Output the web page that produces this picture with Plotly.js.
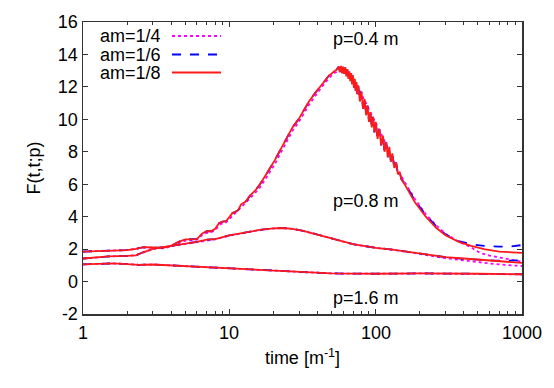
<!DOCTYPE html>
<html>
<head>
<meta charset="utf-8">
<script src="https://cdn.plot.ly/plotly-3.0.1.min.js"></script>
<style>
  html, body { margin: 0; padding: 0; background: #fff; }
  #chart { width: 554px; height: 388px; }
</style>
</head>
<body>
<div id="chart"></div>
<script>
// series names
var seriesNames = ['am=1/4', 'am=1/6', 'am=1/8'];

// p = 0.4 m
var x04 = [1, 1.5, 2, 2.3, 2.6, 3, 3.5, 4, 4.5, 5, 5.5, 6, 6.5, 7, 7.5, 8, 8.5, 9, 9.5, 10, 10.5, 11, 11.5, 12, 12.5, 13, 14, 15, 16.2, 17.5, 19, 20.5, 21.9, 23.5, 25, 27, 29.7, 32, 35, 38, 41.5, 45, 48, 52, 54];
var red04 = [1.85, 1.88, 1.94, 2.02, 2.12, 2.1, 2.08, 2.2, 2.45, 2.6, 2.6, 2.62, 2.95, 3.1, 3.1, 3.25, 3.6, 3.7, 3.72, 3.95, 4.22, 4.3, 4.4, 4.75, 4.85, 4.95, 5.35, 5.6, 6.0, 6.45, 7.0, 7.5, 8.0, 8.5, 9.0, 9.5, 10.0, 10.5, 11.1, 11.55, 12.0, 12.4, 12.7, 12.95, 13.05];
var x04b = [56, 57, 58, 59, 60, 61, 62, 63, 64, 65, 66, 67, 68, 69, 70, 71, 72, 73, 74, 75, 76, 78, 80, 82, 84, 86, 88, 90, 92, 94, 96, 98, 100, 103, 106, 109, 112, 115, 118, 121, 124, 127, 130, 134, 138, 142, 146, 150];
var red04b = [13.25, 12.9, 13.3, 12.85, 13.25, 12.8, 13.2, 12.65, 13.1, 12.5, 12.95, 12.35, 12.85, 12.15, 12.7, 11.95, 12.5, 11.75, 12.3, 11.55, 12.1, 11.1, 11.7, 10.65, 11.25, 10.25, 10.85, 9.85, 10.45, 9.5, 10.15, 9.2, 9.85, 8.8, 9.4, 8.4, 9.0, 8.0, 8.6, 7.65, 8.3, 7.4, 7.9, 7.0, 7.35, 6.6, 6.75, 6.3];
var x04c = [160, 185, 220, 260, 300, 370, 450, 550, 700, 850, 1000];
var red04c = [5.9, 4.9, 4.0, 3.3, 2.85, 2.45, 2.2, 2.0, 1.85, 1.8, 1.77];
var blue04c = [6.0, 5.0, 4.1, 3.4, 2.9, 2.5, 2.3, 2.2, 2.15, 2.17, 2.25];

var xMag04 = [1, 1.5, 2, 2.3, 2.6, 3, 3.5, 4, 4.5, 5, 5.5, 6, 6.5, 7, 7.5, 8, 8.5, 9, 9.5, 10, 11, 12, 13, 14, 15, 16.2, 17.5, 19, 20.5, 21.9, 23.5, 25, 27, 29.7, 32, 35, 38, 41.5, 45, 48, 52, 57, 62, 67, 72, 78, 85, 95, 105, 115, 126, 140, 160, 185, 220, 260, 300, 370, 450, 520, 600, 740, 860, 1000];
var mag04 = [1.85, 1.88, 1.94, 2.02, 2.1, 2.08, 2.05, 2.15, 2.38, 2.52, 2.55, 2.58, 2.85, 3.0, 3.05, 3.15, 3.48, 3.6, 3.65, 3.85, 4.2, 4.6, 4.85, 5.2, 5.45, 5.8, 6.25, 6.75, 7.25, 7.75, 8.25, 8.75, 9.3, 9.8, 10.3, 10.9, 11.35, 11.85, 12.25, 12.55, 12.85, 13.0, 12.95, 12.6, 12.25, 11.75, 11.1, 10.2, 9.4, 8.65, 7.9, 6.95, 6.05, 5.1, 4.15, 3.45, 2.95, 2.45, 2.1, 1.75, 1.6, 1.43, 1.32, 1.22];

// p = 0.8 m
var x08 = [1, 1.5, 2, 2.3, 2.6, 3, 3.5, 4, 5, 6, 7, 8, 10, 13, 16, 20, 23, 27, 32, 40, 50, 60, 70, 85, 100, 130, 160, 200, 250, 300, 400, 500, 650, 800, 1000];
var red08 = [1.42, 1.55, 1.58, 1.62, 1.82, 2.02, 2.12, 2.2, 2.37, 2.45, 2.58, 2.62, 2.85, 3.05, 3.18, 3.28, 3.3, 3.25, 3.12, 2.9, 2.65, 2.45, 2.3, 2.18, 2.08, 1.97, 1.85, 1.72, 1.6, 1.51, 1.42, 1.36, 1.26, 1.2, 1.15];
var blue08 = [1.42, 1.55, 1.58, 1.62, 1.82, 2.02, 2.12, 2.2, 2.37, 2.45, 2.58, 2.62, 2.85, 3.05, 3.18, 3.28, 3.3, 3.25, 3.12, 2.9, 2.65, 2.45, 2.3, 2.18, 2.08, 1.97, 1.85, 1.72, 1.6, 1.5, 1.4, 1.34, 1.29, 1.29, 1.32];
var mag08 = [1.42, 1.55, 1.58, 1.62, 1.8, 2.0, 2.1, 2.18, 2.35, 2.43, 2.56, 2.6, 2.83, 3.03, 3.17, 3.27, 3.3, 3.25, 3.12, 2.9, 2.65, 2.45, 2.3, 2.18, 2.08, 1.97, 1.85, 1.7, 1.56, 1.44, 1.3, 1.2, 1.08, 1.01, 0.96];

// p = 1.6 m
var x16 = [1, 1.3, 1.6, 2, 2.4, 3, 3.5, 4, 5, 7, 10, 16, 20, 30, 50, 100, 200, 500, 1000];
var red16 = [1.06, 1.1, 1.12, 1.08, 1.03, 1.05, 1.02, 0.98, 0.94, 0.88, 0.82, 0.71, 0.65, 0.56, 0.5, 0.48, 0.5, 0.48, 0.45];
var blue16 = [1.06, 1.1, 1.12, 1.08, 1.03, 1.05, 1.02, 0.98, 0.94, 0.88, 0.82, 0.71, 0.65, 0.56, 0.5, 0.48, 0.5, 0.48, 0.45];
var mag16 = [1.06, 1.1, 1.12, 1.08, 1.03, 1.05, 1.02, 0.98, 0.94, 0.88, 0.82, 0.71, 0.65, 0.56, 0.5, 0.48, 0.5, 0.47, 0.44];

// curve labels
var curveLabels = ['p=0.4 m', 'p=0.8 m', 'p=1.6 m'];
var curveLabelY = [14.95, 4.95, -1.0];

// axis ticks
var xTickVals = [1, 10, 100, 1000];
var xTickText = ['1', '10', '100', '1000'];
var xMinorVals = [2, 3, 4, 5, 6, 7, 8, 9, 20, 30, 40, 50, 60, 70, 80, 90, 200, 300, 400, 500, 600, 700, 800, 900];
var yTickVals = [-2, 0, 2, 4, 6, 8, 10, 12, 14, 16];
var yTickText = ['-2', '0', '2', '4', '6', '8', '10', '12', '14', '16'];

var FONT = 'Liberation Sans, Arial, Helvetica, sans-serif';
var magStyle = { color: '#ff00ff', width: 1.8, dash: 'dot' };
var blueStyle = { color: '#0000ff', width: 1.8, dash: 'dash' };
var redStyle = { color: '#ff1a1a', width: 1.8 };

function line(x, y, style) {
    return { x: x, y: y, type: 'scatter', mode: 'lines', line: style, showlegend: false, hoverinfo: 'skip' };
}

var data = [
    line(x16, mag16, magStyle),
    line(x08, mag08, magStyle),
    line(xMag04, mag04, magStyle),
    line(x16, blue16, blueStyle),
    line(x08, blue08, blueStyle),
    line(x04.concat(x04b, x04c), red04.concat(red04b, blue04c), blueStyle),
    line(x16, red16, redStyle),
    line(x08, red08, redStyle),
    line(x04.concat(x04b, x04c), red04.concat(red04b, red04c), redStyle)
];

var annotations = [];
var shapes = [];

// legend drawn gnuplot style: text left, sample line right
var legendStyles = [magStyle, blueStyle, redStyle];
var legendRowY = [36, 54.5, 72.5];
for (var i = 0; i < seriesNames.length; i++) {
    var yp = 1 - (legendRowY[i] - 22) / 292;
    annotations.push({
        xref: 'paper', yref: 'paper', x: (163 - 83) / 439, y: yp,
        xanchor: 'right', yanchor: 'middle', showarrow: false, height: 15,
        text: seriesNames[i], font: { family: FONT, size: 18, color: '#000' }
    });
    shapes.push({
        type: 'line', xref: 'paper', yref: 'paper',
        x0: (172 - 83) / 439, x1: (221 - 83) / 439, y0: yp, y1: yp,
        line: legendStyles[i]
    });
}
for (var j = 0; j < curveLabels.length; j++) {
    annotations.push({
        xref: 'paper', yref: 'y', x: (331 - 83) / 439, y: curveLabelY[j],
        xanchor: 'left', yanchor: 'middle', showarrow: false,
        text: curveLabels[j], font: { family: FONT, size: 18, color: '#000' }
    });
}
// x tick labels centred under their ticks (log axis positions are log10)
for (var k = 0; k < xTickVals.length; k++) {
    annotations.push({
        xref: 'x', yref: 'paper', x: Math.log10(xTickVals[k]), y: -19 / 292,
        xanchor: 'center', yanchor: 'middle', showarrow: false,
        text: xTickText[k], font: { family: FONT, size: 18, color: '#000' }
    });
}

var layout = {
    width: 554,
    height: 388,
    margin: { l: 83, r: 32, t: 22, b: 74 },
    paper_bgcolor: '#fff',
    plot_bgcolor: '#fff',
    font: { family: FONT, size: 18, color: '#000' },
    showlegend: false,
    xaxis: {
        type: 'log',
        range: [0, 3],
        tickmode: 'array',
        tickvals: xTickVals,
        ticktext: xTickText,
        showticklabels: false,
        ticks: 'inside',
        ticklen: 5,
        tickwidth: 1,
        tickcolor: '#333',
        minor: { tickmode: 'array', tickvals: xMinorVals, ticks: 'inside', ticklen: 3, tickwidth: 1, tickcolor: '#333', showgrid: false },
        showline: true,
        linecolor: '#333',
        linewidth: 1.5,
        mirror: 'ticks',
        showgrid: false,
        zeroline: false,
        title: { text: 'time [m<sup>-1</sup>]', font: { family: FONT, size: 18, color: '#000' }, standoff: 37 }
    },
    yaxis: {
        range: [-2, 16],
        tickmode: 'array',
        tickvals: yTickVals,
        ticktext: yTickText,
        ticks: 'inside',
        ticklen: 5,
        tickwidth: 1,
        tickcolor: '#333',
        showline: true,
        linecolor: '#333',
        linewidth: 1.5,
        mirror: 'ticks',
        showgrid: false,
        zeroline: false,
        tickfont: { family: FONT, size: 18, color: '#000' },
        title: { text: 'F(t,t;p)', font: { family: FONT, size: 18, color: '#000' }, standoff: 12 }
    },
    annotations: annotations,
    shapes: shapes
};

Plotly.newPlot('chart', data, layout, { staticPlot: true, displayModeBar: false });
</script>
</body>
</html>
